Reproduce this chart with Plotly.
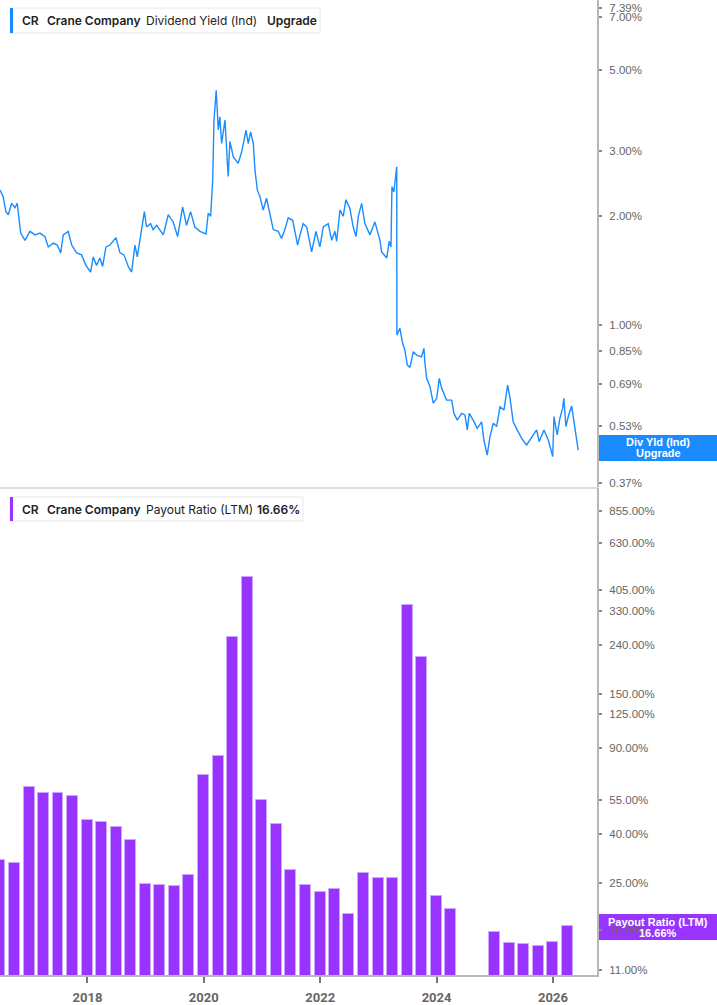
import plotly.graph_objects as go

# ---------------- data ----------------
yield_dates = [
    "2016-07-01", "2016-07-21", "2016-08-07", "2016-08-22", "2016-09-12", "2016-10-03", "2016-10-17", "2016-10-30", "2016-11-08", "2016-12-05",
    "2017-01-05", "2017-02-06", "2017-03-09", "2017-04-09", "2017-04-30", "2017-05-31", "2017-06-25", "2017-07-17", "2017-08-02", "2017-09-02",
    "2017-09-24", "2017-10-25", "2017-11-25", "2017-12-22", "2018-01-21", "2018-02-06", "2018-02-27", "2018-03-20", "2018-04-06", "2018-04-27",
    "2018-05-22", "2018-06-29", "2018-07-24", "2018-08-18", "2018-09-14", "2018-10-05", "2018-10-26", "2018-11-10", "2018-12-01", "2018-12-24",
    "2019-01-07", "2019-02-01", "2019-02-17", "2019-03-11", "2019-04-22", "2019-05-23", "2019-06-23", "2019-07-21", "2019-08-21", "2019-09-15",
    "2019-10-10", "2019-11-06", "2019-12-08", "2020-01-15", "2020-01-29", "2020-02-13", "2020-02-26", "2020-03-05", "2020-03-19", "2020-04-01",
    "2020-04-11", "2020-04-22", "2020-05-13", "2020-06-02", "2020-06-13", "2020-07-04", "2020-08-04", "2020-08-26", "2020-09-22", "2020-10-06",
    "2020-10-21", "2020-11-07", "2020-11-17", "2020-12-02", "2020-12-19", "2021-01-08", "2021-01-29", "2021-02-19", "2021-03-12", "2021-04-12",
    "2021-05-03", "2021-05-24", "2021-06-14", "2021-07-12", "2021-07-26", "2021-08-12", "2021-08-27", "2021-09-16", "2021-10-08", "2021-11-08",
    "2021-12-05", "2021-12-30", "2022-01-20", "2022-02-20", "2022-03-14", "2022-04-03", "2022-04-14", "2022-05-05", "2022-05-25", "2022-06-11",
    "2022-07-06", "2022-07-27", "2022-08-13", "2022-08-28", "2022-09-18", "2022-10-08", "2022-11-09", "2022-12-10", "2023-01-11", "2023-01-21",
    "2023-02-22", "2023-03-10", "2023-03-21", "2023-03-27", "2023-04-08", "2023-04-19", "2023-04-26", "2023-04-27", "2023-05-16", "2023-06-02",
    "2023-06-16", "2023-07-01", "2023-07-18", "2023-08-08", "2023-08-29", "2023-09-29", "2023-10-14", "2023-10-20", "2023-10-31", "2023-11-21",
    "2023-12-11", "2024-01-02", "2024-01-18", "2024-02-02", "2024-03-04", "2024-04-05", "2024-04-19", "2024-05-10", "2024-06-06", "2024-06-27",
    "2024-07-12", "2024-07-24", "2024-08-18", "2024-09-12", "2024-10-10", "2024-10-24", "2024-11-14", "2024-12-01", "2024-12-22", "2025-01-12",
    "2025-02-02", "2025-02-27", "2025-03-22", "2025-04-05", "2025-04-26", "2025-05-21", "2025-06-18", "2025-07-19", "2025-08-20", "2025-09-20",
    "2025-10-06", "2025-11-05", "2025-12-02", "2025-12-30", "2026-01-07", "2026-01-27", "2026-02-13", "2026-03-02", "2026-03-10", "2026-03-23",
    "2026-04-06", "2026-04-28", "2026-05-14", "2026-05-29", "2026-06-08",
]
yield_values = [
    2.35, 2.25, 2.05, 2.01, 2.16, 2.10, 2.16, 1.97, 1.79, 1.71,
    1.81, 1.77, 1.79, 1.75, 1.64, 1.68, 1.66, 1.58, 1.77, 1.81,
    1.66, 1.58, 1.56, 1.46, 1.40, 1.54, 1.46, 1.53, 1.45, 1.64,
    1.66, 1.74, 1.58, 1.56, 1.45, 1.40, 1.66, 1.54, 1.75, 2.05,
    1.86, 1.90, 1.83, 1.88, 1.77, 2.01, 1.92, 1.75, 2.11, 1.88,
    2.05, 1.86, 1.81, 1.78, 2.03, 1.99, 2.50, 3.65, 4.41, 3.43,
    3.73, 3.15, 3.65, 2.56, 3.19, 2.90, 2.78, 2.99, 3.43, 3.15,
    3.39, 3.15, 2.67, 2.35, 2.25, 2.07, 2.23, 2.03, 1.83, 1.81,
    1.73, 1.83, 1.97, 1.94, 1.79, 1.66, 1.77, 1.90, 1.86, 1.59,
    1.81, 1.64, 1.86, 1.90, 1.71, 1.81, 1.70, 2.07, 1.99, 2.21,
    2.09, 1.86, 1.75, 1.99, 2.16, 1.90, 1.77, 1.92, 1.71, 1.59,
    1.53, 1.70, 1.64, 2.40, 2.32, 2.61, 2.72, 0.941, 0.981, 0.893,
    0.856, 0.779, 0.767, 0.847, 0.829, 0.820, 0.865, 0.787, 0.716, 0.679,
    0.612, 0.631, 0.716, 0.672, 0.624, 0.624, 0.574, 0.550, 0.574, 0.568,
    0.517, 0.574, 0.550, 0.522, 0.544, 0.485, 0.441, 0.495, 0.539, 0.528,
    0.598, 0.586, 0.686, 0.637, 0.544, 0.517, 0.490, 0.470, 0.495, 0.517,
    0.480, 0.517, 0.485, 0.437, 0.562, 0.501, 0.556, 0.592, 0.631, 0.528,
    0.562, 0.601, 0.539, 0.490, 0.455,
]

payout_dates = [
    "2016-06-30", "2016-09-30", "2016-12-31", "2017-03-31", "2017-06-30", "2017-09-30", "2017-12-31", "2018-03-31",
    "2018-06-30", "2018-09-30", "2018-12-31", "2019-03-31", "2019-06-30", "2019-09-30", "2019-12-31", "2020-03-31",
    "2020-06-30", "2020-09-30", "2020-12-31", "2021-03-31", "2021-06-30", "2021-09-30", "2021-12-31", "2022-03-31",
    "2022-06-30", "2022-09-30", "2022-12-31", "2023-03-31", "2023-06-30", "2023-09-30", "2023-12-31", "2024-03-31",
    "2024-06-30", "2024-09-30", "2024-12-31", "2025-03-31", "2025-06-30", "2025-09-30", "2025-12-31", "2026-03-31",
]
payout_values = [
    31.2, 30.4, 62.5, 58.9, 58.9, 57.1, 45.5, 44.6,
    42.7, 37.6, 24.8, 24.5, 24.4, 27.1, 69.7, 83.7,
    258, 456, 55.3, 43.9, 28.4, 24.5, 23.0, 23.7,
    18.7, 27.6, 26.3, 26.3, 350, 214, 22.2, 19.6,
    None, None, 15.7, 14.2, 14.0, 13.8, 14.3, 16.66,
]

yield_ticks = [7.39, 7.00, 5.00, 3.00, 2.00, 1.00, 0.85, 0.69, 0.53, 0.37]
payout_ticks = [855, 630, 405, 330, 240, 150, 125, 90, 55, 40, 25, 16, 11]

x_range = ["2016-07-01", "2026-10-04"]
yield_range_log = [-0.443, 0.8916]
payout_range_log = [1.0203, 3.0267]

# ---------------- layout helpers ----------------
W, H = 717, 1005
ML, MR, MT, MB = 0, 120, 0, 30
PW = W - ML - MR
PH = H - MT - MB


def px(x):
    return x / PW


def py(y):
    return 1 - y / PH


BLUE = "#1a8cff"
PURPLE = "#9933ff"
AXIS_GREY = "#b8b8b8"
TICK_FONT = dict(family="Liberation Sans, Arial, sans-serif", size=11.5, color="#666666")
BAR_WIDTH_MS = 69 * 86400000

fig = go.Figure()

fig.add_trace(go.Scatter(
    x=yield_dates, y=yield_values, mode="lines",
    line=dict(color=BLUE, width=1.4), xaxis="x", yaxis="y",
    showlegend=False, hoverinfo="skip",
))

fig.add_trace(go.Bar(
    x=payout_dates, y=payout_values, width=[BAR_WIDTH_MS] * len(payout_dates),
    marker=dict(color=PURPLE, line=dict(color="#cda6ff", width=1)),
    xaxis="x2", yaxis="y2", showlegend=False, hoverinfo="skip",
))

fig.update_layout(
    width=W, height=H,
    margin=dict(l=ML, r=MR, t=MT, b=MB, pad=0),
    paper_bgcolor="white", plot_bgcolor="white",
    bargap=0,
    xaxis=dict(
        domain=[0, 1], anchor="y", type="date", range=x_range,
        showline=True, linecolor="#dddddd", linewidth=2,
        showticklabels=False, ticks="", showgrid=False, zeroline=False,
    ),
    yaxis=dict(
        domain=[py(487), 1], anchor="x", side="right", type="log",
        range=yield_range_log, showline=True, linecolor=AXIS_GREY, linewidth=2,
        ticks="outside", ticklen=3, tickwidth=2, tickcolor="#888888",
        tickvals=yield_ticks, ticktext=[f"{v:.2f}%" for v in yield_ticks],
        tickfont=TICK_FONT, ticklabelstandoff=5, showgrid=False, zeroline=False,
    ),
    xaxis2=dict(
        domain=[0, 1], anchor="y2", type="date", range=x_range,
        showline=True, linecolor=AXIS_GREY, linewidth=2,
        ticks="outside", ticklen=6, tickwidth=1.5, tickcolor="#777777",
        tick0="2018-01-01", dtick="M24", tickformat="%Y",
        tickfont=dict(family="Roboto, sans-serif", size=13, color="#666666", weight=700),
        ticklabelstandoff=3, showgrid=False, zeroline=False,
    ),
    yaxis2=dict(
        domain=[0, py(488)], anchor="x2", side="right", type="log",
        range=payout_range_log, showline=True, linecolor=AXIS_GREY, linewidth=2,
        ticks="outside", ticklen=3, tickwidth=2, tickcolor="#888888",
        tickvals=payout_ticks, ticktext=[f"{v:.2f}%" for v in payout_ticks],
        tickfont=TICK_FONT, ticklabelstandoff=5, showgrid=False, zeroline=False,
    ),
)

shapes = []
annotations = []


def legend_box(x0, x1, y0, y1, accent, parts):
    shapes.append(dict(type="rect", xref="paper", yref="paper",
                       x0=px(x0), x1=px(x1), y0=py(y1), y1=py(y0),
                       fillcolor="white", line=dict(color="#e8e8e8", width=1), layer="above"))
    shapes.append(dict(type="rect", xref="paper", yref="paper",
                       x0=px(x0), x1=px(x0 + 3), y0=py(y1), y1=py(y0),
                       fillcolor=accent, line=dict(width=0), layer="above"))
    yc = (y0 + y1) / 2
    for xpos, text, bold in parts:
        annotations.append(dict(
            xref="paper", yref="paper", x=px(xpos), y=py(yc),
            xanchor="left", yanchor="middle", showarrow=False,
            text=text,
            font=dict(family="Inter, sans-serif", size=12, color="#222222",
                      weight=600 if bold else 400),
        ))


legend_box(10, 320, 8, 33, BLUE, [
    (20, "CR", True), (45, "Crane Company", True),
    (144, "Dividend Yield (Ind)", False), (265, "Upgrade", True),
])
legend_box(10, 303, 497, 521, PURPLE, [
    (20, "CR", True), (45, "Crane Company", True),
    (144, "Payout Ratio (LTM)", False), (255, "16.66%", True),
])


def badge(y0, y1, color, lines):
    shapes.append(dict(type="rect", xref="paper", yref="paper",
                       x0=px(598), x1=px(717), y0=py(y1), y1=py(y0),
                       fillcolor=color, line=dict(width=0), layer="below"))
    for yc, text in lines:
        annotations.append(dict(
            xref="paper", yref="paper", x=px(658), y=py(yc),
            xanchor="center", yanchor="middle", showarrow=False,
            text=f"<b>{text}</b>",
            font=dict(family="Liberation Sans, Arial, sans-serif", size=11, color="white"),
        ))


badge(435, 461, BLUE, [(442, "Div Yld (Ind)"), (453, "Upgrade")])
badge(914, 940, PURPLE, [(922, "Payout Ratio (LTM)"), (933, "16.66%")])

fig.update_layout(shapes=shapes, annotations=annotations)

fig.write_html("out.html")
